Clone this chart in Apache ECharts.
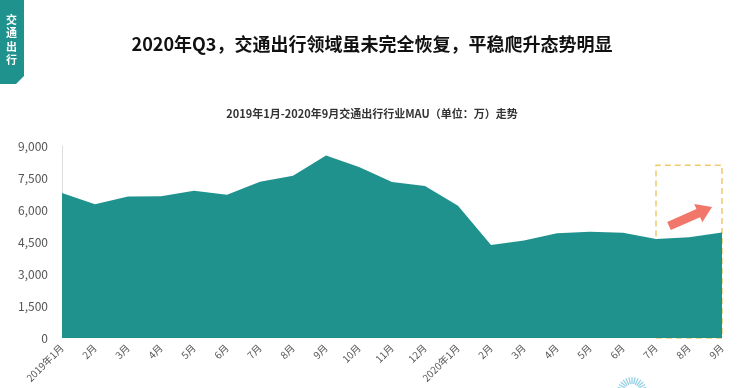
<!DOCTYPE html>
<html><head><meta charset="utf-8">
<script src="https://cdn.jsdelivr.net/npm/echarts@6/dist/echarts.min.js"></script>
<style>html,body{margin:0;padding:0;background:#fff}#c{width:744px;height:388px}</style>
</head><body><div id="c"></div>
<script>
var categories = ['2019年1月','2月','3月','4月','5月','6月','7月','8月','9月','10月','11月','12月','2020年1月','2月','3月','4月','5月','6月','7月','8月','9月'];
var mau = [6800, 6270, 6630, 6640, 6900, 6720, 7330, 7600, 8550, 8020, 7310, 7120, 6200, 4360, 4570, 4910, 4980, 4930, 4640, 4720, 4940];
var yTicks = [0, 1500, 3000, 4500, 6000, 7500, 9000];
var titleText = '2020年Q3，交通出行领域虽未完全恢复，平稳爬升态势明显';
var subTitleText = '2019年1月-2020年9月交通出行行业MAU（单位：万）走势';
var tabText = '交通出行';
var highlightTop = 8100;

var font = '"Noto Sans CJK SC", "Noto Sans", sans-serif';
var chart = echarts.init(document.getElementById('c'));
var rays = [];
for (var k = 0; k < 13; k++) {
  var a = Math.PI * (0.1 + 0.8 * k / 12);
  rays.push({type: 'line', id: 'ray' + k, silent: true,
    shape: {x1: 632 - Math.cos(a) * 8, y1: 392 - Math.sin(a) * 8, x2: 632 - Math.cos(a) * 15, y2: 392 - Math.sin(a) * 15},
    style: {stroke: '#8fcfe3', lineWidth: 1.2}});
}
chart.setOption({
  animation: false,
  textStyle: {fontFamily: font},
  grid: {left: 62, right: 22, top: 146, bottom: 50},
  title: [
    {text: titleText, left: 'center', top: 30, textStyle: {fontSize: 18, fontWeight: 'bold', color: '#111', fontFamily: font}},
    {text: subTitleText, left: 'center', top: 103, textStyle: {fontSize: 11, fontWeight: 'bold', color: '#333', fontFamily: font}}
  ],
  xAxis: {
    type: 'category', data: categories, boundaryGap: false,
    axisLine: {show: false}, axisTick: {show: false},
    axisLabel: {rotate: 45, fontSize: 10, color: '#555', interval: 0, margin: 8}
  },
  yAxis: {
    type: 'value', min: yTicks[0], max: yTicks[yTicks.length - 1], interval: 1500,
    splitLine: {show: false},
    axisLine: {show: true, lineStyle: {color: '#ddd'}},
    axisTick: {show: false},
    axisLabel: {fontSize: 12, color: '#555', margin: 14,
      formatter: function (v) { return v.toLocaleString('en-US'); }}
  },
  series: [{
    type: 'line', data: mau, symbol: 'none',
    lineStyle: {width: 0}, areaStyle: {color: '#1f928e', opacity: 1},
    markArea: {
      silent: true,
      itemStyle: {color: 'rgba(0,0,0,0)', borderColor: '#efc96d', borderWidth: 1.5, borderType: [6, 4]},
      data: [[{xAxis: 18, yAxis: 0}, {xAxis: 20, yAxis: highlightTop}]]
    }
  }],
  graphic: [
    {type: 'polygon', id: 'tab', shape: {points: [[0,0],[24,0],[24,76],[16,84],[0,84]]}, style: {fill: '#1f928e'}},
    {type: 'text', id: 'tabtext', left: 6, top: 13, style: {text: tabText.split('').join('\n'), fill: '#fff', font: 'bold 11px ' + font, lineHeight: 13.5}}
  ].concat(rays)
});
var p1 = chart.convertToPixel({seriesIndex: 0}, [18, 5900]);
var p2 = chart.convertToPixel({seriesIndex: 0}, [20, 6200]);
var x0 = p1[0] + 13, y0 = 226, x1 = p2[0] - 10, y1 = 207;
var dx = x1 - x0, dy = y1 - y0, L = Math.sqrt(dx*dx + dy*dy), ux = dx / L, uy = dy / L, nx = -uy, ny = ux;
var hw = 4.5, hh = 10, hl = 15;
function P(a, b) { return [x0 + ux * a + nx * b, y0 + uy * a + ny * b]; }
chart.setOption({graphic: [
  {type: 'polygon', id: 'arrow', z: 100, shape: {points: [P(0,-hw), P(L-hl,-hw), P(L-hl,-hh), P(L,0), P(L-hl,hh), P(L-hl,hw), P(0,hw)]}, style: {fill: '#f0776a'}}
]});
</script></body></html>
